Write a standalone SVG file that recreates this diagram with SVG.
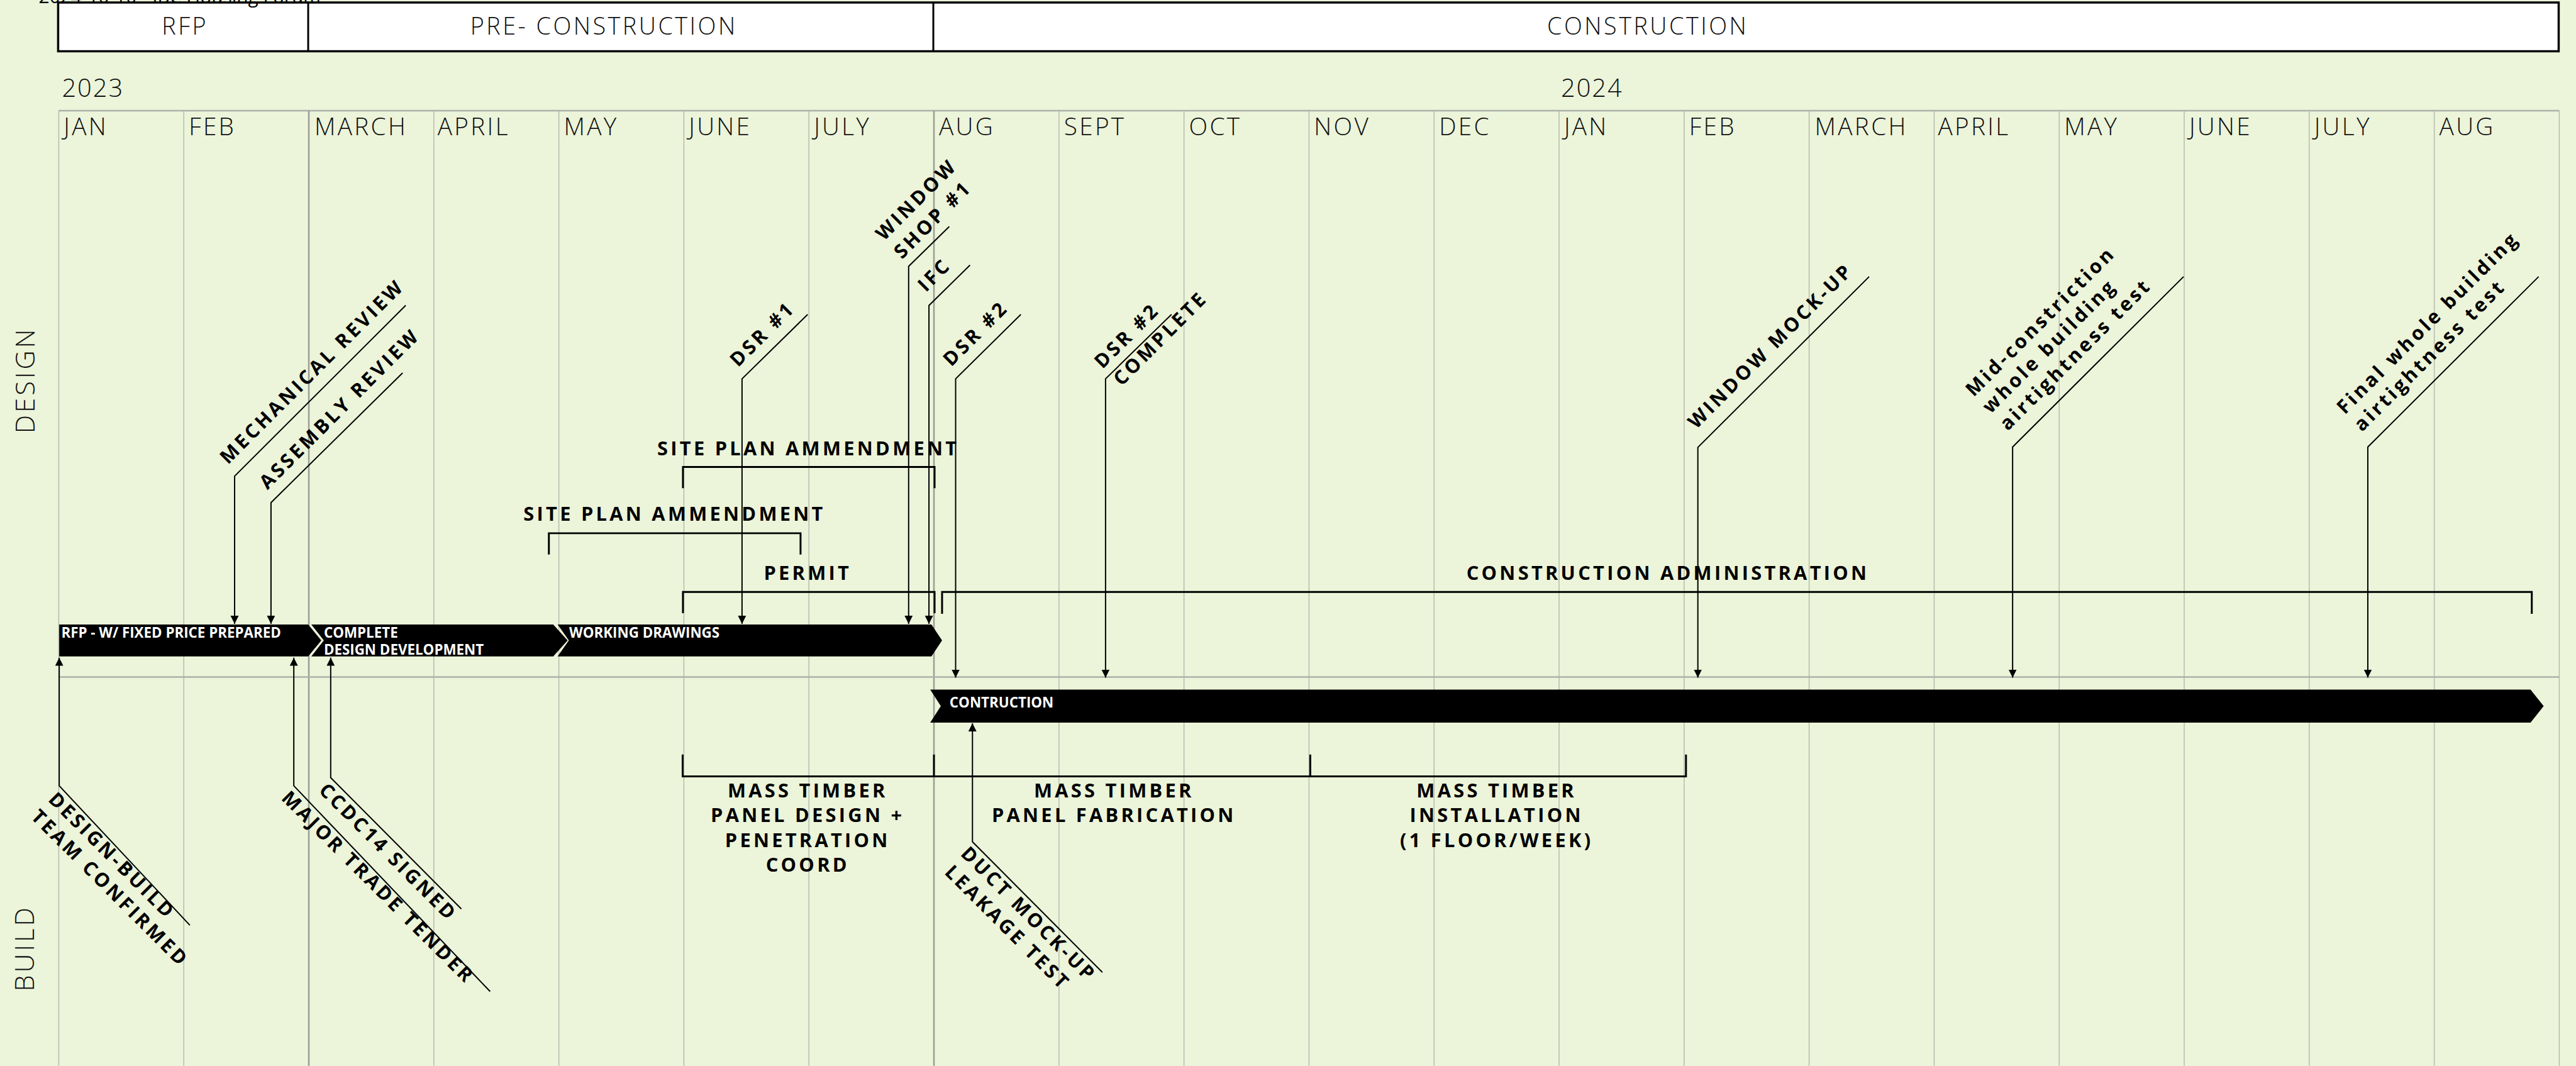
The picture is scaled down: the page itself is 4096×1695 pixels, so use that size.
<svg xmlns="http://www.w3.org/2000/svg" width="4096" height="1695" viewBox="0 0 4096 1695">
<defs>
<style>
.grid{stroke:#b6bbae;stroke-width:1.5}
.gridd{stroke:#9a9d96;stroke-width:2.5}
.hl{stroke:#aeb0aa;stroke-width:2.5}
.thin{font-family:'Open Sans','DejaVu Sans',sans-serif;font-weight:300;fill:#111}
.hdr{font-size:38px;letter-spacing:3.5px}
.mon{font-size:39px;letter-spacing:3.3px}
.yr{font-size:40px;letter-spacing:2px}
.lane{font-size:42px;letter-spacing:4px}
.lbl{font-family:'Open Sans','DejaVu Sans',sans-serif;font-weight:700;font-size:31px;letter-spacing:4.3px;fill:#000}
.bar{fill:#000}
.bt{font-family:'Open Sans','DejaVu Sans',sans-serif;font-weight:700;font-size:22.5px;fill:#fff}
.br{fill:none;stroke:#000;stroke-width:3}
.ar{fill:none;stroke:#000;stroke-width:2;marker-end:url(#ah)}
</style>
<marker id="ah" markerWidth="14" markerHeight="14" refX="13" refY="6.5" orient="auto" markerUnits="userSpaceOnUse"><path d="M0,0 L13,6.5 L0,13 z" fill="#000"/></marker>
</defs>
<rect x="0" y="0" width="4096" height="1695" fill="#ecf4da"/>
<g transform="scale(0.994)">
<g id="grid">
<line class="hl" x1="94" y1="177" x2="4094" y2="177"/>
<line class="grid" x1="94" y1="177" x2="94" y2="1705"/>
<line class="grid" x1="294" y1="177" x2="294" y2="1705"/>
<line class="gridd" x1="494" y1="177" x2="494" y2="1705"/>
<line class="grid" x1="694" y1="177" x2="694" y2="1705"/>
<line class="grid" x1="894" y1="177" x2="894" y2="1705"/>
<line class="grid" x1="1094" y1="177" x2="1094" y2="1705"/>
<line class="grid" x1="1294" y1="177" x2="1294" y2="1705"/>
<line class="gridd" x1="1494" y1="177" x2="1494" y2="1705"/>
<line class="grid" x1="1694" y1="177" x2="1694" y2="1705"/>
<line class="grid" x1="1894" y1="177" x2="1894" y2="1705"/>
<line class="grid" x1="2094" y1="177" x2="2094" y2="1705"/>
<line class="grid" x1="2294" y1="177" x2="2294" y2="1705"/>
<line class="grid" x1="2494" y1="177" x2="2494" y2="1705"/>
<line class="grid" x1="2694" y1="177" x2="2694" y2="1705"/>
<line class="grid" x1="2894" y1="177" x2="2894" y2="1705"/>
<line class="grid" x1="3094" y1="177" x2="3094" y2="1705"/>
<line class="grid" x1="3294" y1="177" x2="3294" y2="1705"/>
<line class="grid" x1="3494" y1="177" x2="3494" y2="1705"/>
<line class="grid" x1="3694" y1="177" x2="3694" y2="1705"/>
<line class="grid" x1="3894" y1="177" x2="3894" y2="1705"/>
<line class="grid" x1="4094" y1="177" x2="4094" y2="1705"/>
<line class="hl" x1="94" y1="1083" x2="4094" y2="1083"/>
</g>
<g id="header">
<rect x="93" y="4" width="4000" height="78" fill="#fff" stroke="#000" stroke-width="3.5"/>
<line x1="493" y1="4" x2="493" y2="82" stroke="#000" stroke-width="3"/>
<line x1="1493" y1="4" x2="1493" y2="82" stroke="#000" stroke-width="3"/>
<text class="thin hdr" x="296" y="55" text-anchor="middle">RFP</text>
<text class="thin hdr" x="966" y="55" text-anchor="middle">PRE- CONSTRUCTION</text>
<text class="thin hdr" x="2636" y="55" text-anchor="middle">CONSTRUCTION</text>
<text x="62" y="5" font-family="'Open Sans','DejaVu Sans',sans-serif" font-size="30" fill="#000">2024-10-10 - IBC Housing Forum</text>
</g>
<g id="timeline">
<text class="thin yr" x="99" y="155">2023</text>
<text class="thin yr" x="2497" y="155">2024</text>
<text class="thin mon" x="102" y="216">JAN</text>
<text class="thin mon" x="302" y="216">FEB</text>
<text class="thin mon" x="503" y="216">MARCH</text>
<text class="thin mon" x="700" y="216">APRIL</text>
<text class="thin mon" x="902" y="216">MAY</text>
<text class="thin mon" x="1102" y="216">JUNE</text>
<text class="thin mon" x="1302" y="216">JULY</text>
<text class="thin mon" x="1502" y="216">AUG</text>
<text class="thin mon" x="1702" y="216">SEPT</text>
<text class="thin mon" x="1902" y="216">OCT</text>
<text class="thin mon" x="2102" y="216">NOV</text>
<text class="thin mon" x="2302" y="216">DEC</text>
<text class="thin mon" x="2502" y="216">JAN</text>
<text class="thin mon" x="2702" y="216">FEB</text>
<text class="thin mon" x="2903" y="216">MARCH</text>
<text class="thin mon" x="3100" y="216">APRIL</text>
<text class="thin mon" x="3302" y="216">MAY</text>
<text class="thin mon" x="3502" y="216">JUNE</text>
<text class="thin mon" x="3702" y="216">JULY</text>
<text class="thin mon" x="3902" y="216">AUG</text>
<text class="thin lane" transform="translate(55,608) rotate(-90)" text-anchor="middle">DESIGN</text>
<text class="thin lane" transform="translate(54,1517) rotate(-90)" text-anchor="middle">BUILD</text>
</g>
<g id="bar-rfp">
<polygon class="bar" points="94.7,999 493,999 514,1024.5 493,1050 94.7,1050"/>
<text class="bt" x="98" y="1020.5">RFP - W/ FIXED PRICE PREPARED</text>
</g>
<g id="bar-dd">
<polygon class="bar" points="498,999 885,999 908,1024.5 885,1050 498,1050 518,1024.5"/>
<text class="bt" x="518" y="1020.5">COMPLETE</text>
<text class="bt" x="518" y="1047.5">DESIGN DEVELOPMENT</text>
</g>
<g id="bar-wd">
<polygon class="bar" points="892,999 1490,999 1507,1024.5 1490,1050 892,1050 910,1024.5"/>
<text class="bt" x="910.5" y="1020.5">WORKING DRAWINGS</text>
</g>
<g id="bar-construction">
<polygon class="bar" points="1488,1103 4048,1103 4069,1129.5 4048,1156 1488,1156 1505,1129.5"/>
<text class="bt" x="1519" y="1132">CONTRUCTION</text>
</g>
<g id="site-plan-2">
<text class="lbl" x="1293" y="728" text-anchor="middle">SITE PLAN AMMENDMENT</text>
<path class="br" d="M1092.5,781 V747 H1495 V781"/>
</g>
<g id="site-plan-1">
<text class="lbl" x="1079" y="833" text-anchor="middle">SITE PLAN AMMENDMENT</text>
<path class="br" d="M878,887 V853 H1280.6 V887"/>
</g>
<g id="permit">
<text class="lbl" x="1292" y="928" text-anchor="middle">PERMIT</text>
<path class="br" d="M1092.5,981 V947 H1495 V981"/>
</g>
<g id="construction-admin">
<text class="lbl" x="2668" y="928" text-anchor="middle">CONSTRUCTION ADMINISTRATION</text>
<path class="br" d="M1507,982 V947 H4050 V982"/>
</g>
<g id="mass-timber-design">
<text class="lbl" text-anchor="middle"><tspan x="1292" y="1275.5">MASS TIMBER</tspan><tspan x="1292" y="1315">PANEL DESIGN +</tspan><tspan x="1292" y="1355">PENETRATION</tspan><tspan x="1292" y="1394.5">COORD</tspan></text>
</g>
<g id="mass-timber-fab">
<text class="lbl" text-anchor="middle"><tspan x="1782" y="1275.5">MASS TIMBER</tspan><tspan x="1782" y="1315">PANEL FABRICATION</tspan></text>
</g>
<g id="mass-timber-install">
<text class="lbl" text-anchor="middle"><tspan x="2394" y="1275.5">MASS TIMBER</tspan><tspan x="2394" y="1315">INSTALLATION</tspan><tspan x="2394" y="1355">(1 FLOOR/WEEK)</tspan></text>
</g>
<g id="mass-timber-brackets">
<path class="br" d="M1092,1207 V1242 H2697 V1207 M1494,1207 V1242 M2096,1207 V1242"/>
</g>
<g id="ms-mechanical">
<text class="lbl" transform="translate(375.3,761.7) rotate(-45)" x="5" y="-20">MECHANICAL REVIEW</text>
</g>
<g id="ms-assembly">
<text class="lbl" transform="translate(433.5,804) rotate(-45)" x="10" y="-18">ASSEMBLY REVIEW</text>
</g>
<g id="ms-dsr1">
<text class="lbl" transform="translate(1187,606) rotate(-45)" x="8" y="-17">DSR #1</text>
</g>
<g id="ms-window-shop">
<text class="lbl" transform="translate(1453.5,426) rotate(-45)"><tspan x="0" y="-56">WINDOW</tspan><tspan x="0" y="-15">SHOP #1</tspan></text>
</g>
<g id="ms-ifc">
<text class="lbl" transform="translate(1486,488.7) rotate(-45)" x="11" y="-18">IFC</text>
</g>
<g id="ms-dsr2">
<text class="lbl" transform="translate(1528.7,606) rotate(-45)" x="8" y="-18">DSR #2</text>
</g>
<g id="ms-dsr2-complete">
<text class="lbl" transform="translate(1768.5,606) rotate(-45)"><tspan x="7" y="-14">DSR #2</tspan><tspan x="9" y="27">COMPLETE</tspan></text>
</g>
<g id="ms-window-mockup">
<text class="lbl" transform="translate(2716,715.7) rotate(-45)" x="18" y="-22">WINDOW MOCK-UP</text>
</g>
<g id="ms-mid-test">
<text class="lbl" transform="translate(3219.5,715) rotate(-45)"><tspan x="12" y="-100">Mid-constriction</tspan><tspan x="12" y="-62">whole building</tspan><tspan x="12" y="-23">airtightness test</tspan></text>
</g>
<g id="ms-final-test">
<text class="lbl" transform="translate(3787.7,715) rotate(-45)"><tspan x="10" y="-62">Final whole building</tspan><tspan x="10" y="-23">airtightness test</tspan></text>
</g>
<g id="ms-design-build">
<text class="lbl" transform="translate(94.7,1257) rotate(45)"><tspan x="3" y="30">DESIGN-BUILD</tspan><tspan x="3" y="69">TEAM CONFIRMED</tspan></text>
</g>
<g id="ms-major-trade">
<text class="lbl" transform="translate(470,1257) rotate(45)" x="0" y="30">MAJOR TRADE TENDER</text>
</g>
<g id="ms-ccdc14">
<text class="lbl" transform="translate(529,1244) rotate(45)" x="1" y="30">CCDC14 SIGNED</text>
</g>
<g id="ms-duct">
<text class="lbl" transform="translate(1555.6,1346.6) rotate(45)"><tspan x="0" y="29">DUCT MOCK-UP</tspan><tspan x="3" y="68">LEAKAGE TEST</tspan></text>
</g>
<g id="connectors">
<path class="ar" d="M649,488.5 L375.3,761.7 L375.3,998"/>
<path class="ar" d="M644,596.5 L433.5,804 L433.5,998"/>
<path class="ar" d="M1292,503 L1187,606 L1187,998"/>
<path class="ar" d="M1518.5,362.4 L1453.5,426 L1453.5,998"/>
<path class="ar" d="M1551.7,424 L1486,488.7 L1486,998"/>
<path class="ar" d="M1633,503 L1528.7,606 L1528.7,1084"/>
<path class="ar" d="M1874,503 L1768.5,606 L1768.5,1084"/>
<path class="ar" d="M2990,442.5 L2716,715.7 L2716,1084"/>
<path class="ar" d="M3493,442.5 L3219.5,715 L3219.5,1084"/>
<path class="ar" d="M4061,442.5 L3787.7,715 L3787.7,1084"/>
<path class="ar" d="M303.7,1480 L94.7,1257 L94.7,1052"/>
<path class="ar" d="M784,1586 L470,1257 L470,1052"/>
<path class="ar" d="M738,1454 L529,1244 L529,1052"/>
<path class="ar" d="M1763.4,1555.4 L1555.6,1346.6 L1555.6,1157"/>
</g>
</g>
</svg>
